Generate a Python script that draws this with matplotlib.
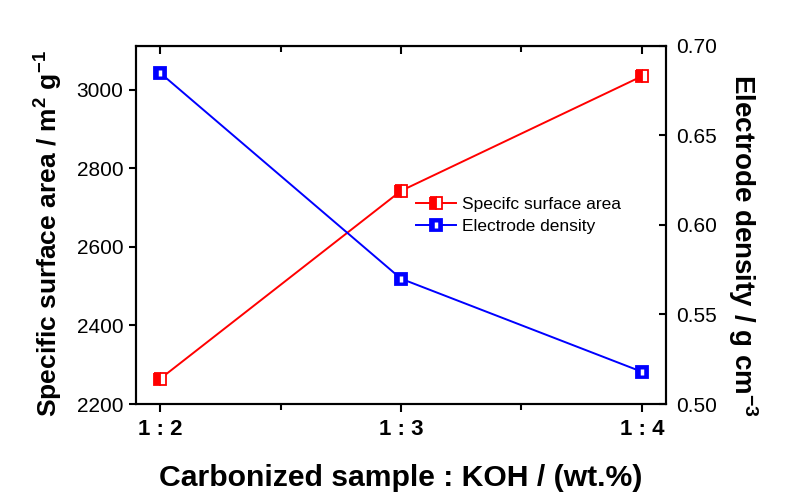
import numpy as np
import matplotlib
matplotlib.use("Agg")
import matplotlib.pyplot as plt
from matplotlib.legend_handler import HandlerTuple

plt.rcParams["font.family"] = ["Liberation Sans", "DejaVu Sans"]
plt.rcParams["mathtext.fontset"] = "custom"
plt.rcParams["mathtext.rm"] = "Liberation Sans:bold"
plt.rcParams["mathtext.default"] = "rm"

ratios = ["1 : 2", "1 : 3", "1 : 4"]
surface_area = [2264, 2743, 3035]
electrode_density = [0.685, 0.570, 0.518]

x = np.arange(len(ratios))

fig = plt.figure(figsize=(8.01, 4.98), dpi=100)
ax = fig.add_axes([136 / 801, 1 - 404 / 498, 530 / 801, 358 / 498])
ax2 = ax.twinx()

l1, = ax.plot(x, surface_area, color="red", lw=1.4, marker="s", ms=9,
              fillstyle="left", markerfacecolor="red",
              markerfacecoloralt="white", markeredgecolor="red", mew=1.3)
l2, = ax2.plot(x, electrode_density, color="blue", lw=1.4, marker="s", ms=9,
               markerfacecolor="blue", markeredgecolor="blue", mew=1.3)
l2b, = ax2.plot(x, electrode_density, ls="none", marker="|", ms=5,
                color="white", mew=2.5)

ax.set_xlim(-0.1, 2.1)
ax.set_ylim(2200, 3112)
ax2.set_ylim(0.50, 0.70)
ax.set_yticks([2200, 2400, 2600, 2800, 3000])
ax2.set_yticks([0.50, 0.55, 0.60, 0.65, 0.70])
ax2.set_yticklabels(["0.50", "0.55", "0.60", "0.65", "0.70"])
ax.set_xticks(x)
ax.set_xticklabels(ratios, fontweight="bold")
ax.set_xticks([0.5, 1.5], minor=True)

for a in (ax, ax2):
    for s in a.spines.values():
        s.set_linewidth(1.5)

ax.tick_params(axis="x", which="both", direction="out", top=False,
               labelsize=16, width=1.5, pad=5)
ax.tick_params(axis="x", which="major", length=6)
ax.tick_params(axis="x", which="minor", length=4)
ax.tick_params(axis="y", direction="out", labelsize=15, width=1.5, length=5,
               pad=4)
ax2.tick_params(axis="y", direction="in", labelsize=15, width=1.5, length=5,
                pad=7)

# mirrored top ticks pointing inward
top = ax.secondary_xaxis("top")
top.set_xticks(x)
top.set_xticks([0.5, 1.5], minor=True)
top.tick_params(which="both", direction="in", labeltop=False, width=1.5)
top.tick_params(which="major", length=6)
top.tick_params(which="minor", length=4)

ax.set_xlabel("Carbonized sample : KOH / (wt.%)", fontsize=21.7,
              fontweight="bold", labelpad=17)
ax.set_ylabel("Specific surface area / m$^{2}$ g$^{-1}$", fontsize=19,
              fontweight="bold")
ax.yaxis.set_label_coords(-0.134, 0.475)
ax2.set_ylabel("Electrode density / g cm$^{-3}$", fontsize=20,
               fontweight="bold", rotation=270)
ax2.yaxis.set_label_coords(1.177, 0.444)

ax.legend([l1, (l2, l2b)], ["Specifc surface area", "Electrode density"],
          handler_map={tuple: HandlerTuple(ndivide=1)},
          loc="upper left", bbox_to_anchor=(0.515, 0.597), frameon=False,
          fontsize=12.5, handlelength=2.3, handletextpad=0.35,
          labelspacing=0.35, borderaxespad=0)

fig.savefig("out.png", dpi=100)
